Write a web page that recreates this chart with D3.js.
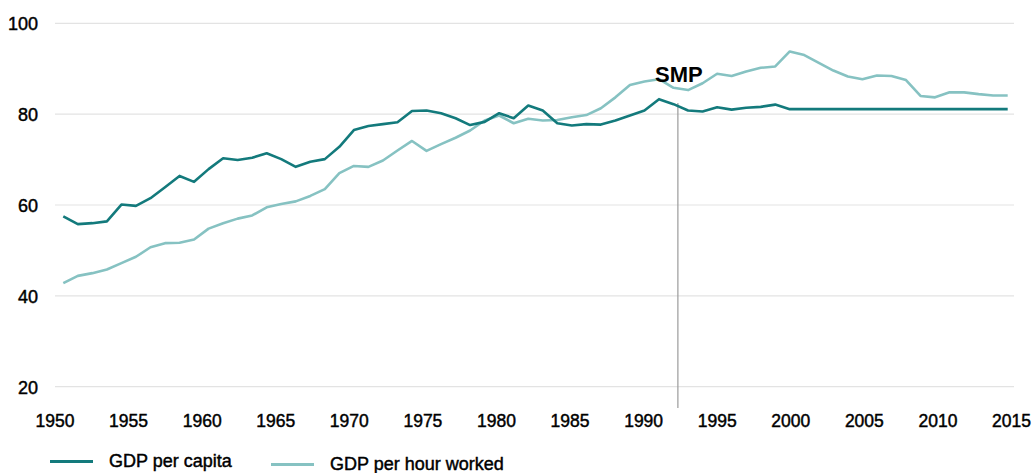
<!DOCTYPE html>
<html>
<head>
<meta charset="utf-8">
<script src="https://cdn.jsdelivr.net/npm/d3@7"></script>
<style>
  html, body { margin: 0; padding: 0; background: #fff; }
  svg { display: block; font-family: "Liberation Sans", Arial, sans-serif; }
  .lbl { fill: #000; stroke: #000; stroke-width: 0.45px; paint-order: fill; }
</style>
</head>
<body>
<svg id="chart" width="1033" height="473"></svg>
<script>
const years = d3.range(1950, 2016);
const gdpPerCapita = [
  57.5, 55.8, 56.0, 56.4, 60.1, 59.8, 61.5, 63.9, 66.4, 65.1,
  67.9, 70.3, 69.9, 70.4, 71.4, 70.1, 68.4, 69.5, 70.1, 72.8,
  76.5, 77.4, 77.8, 78.2, 80.7, 80.8, 80.2, 79.1, 77.6, 78.3,
  80.2, 79.1, 81.9, 80.8, 78.0, 77.5, 77.8, 77.7, 78.6, 79.7,
  80.8, 83.3, 82.2, 80.8, 80.6, 81.5, 81.0, 81.4, 81.6, 82.1,
  81.1, 81.1, 81.1, 81.1, 81.1, 81.1, 81.1, 81.1, 81.1, 81.1,
  81.1, 81.1, 81.1, 81.1, 81.1, 81.1
];
const gdpPerHour = [
  42.8, 44.4, 45.0, 45.8, 47.2, 48.6, 50.7, 51.6, 51.7, 52.4,
  54.8, 56.0, 57.0, 57.7, 59.5, 60.2, 60.8, 62.0, 63.5, 67.0,
  68.6, 68.4, 69.8, 72.0, 74.1, 71.9, 73.4, 74.8, 76.4, 78.6,
  79.7, 78.0, 79.0, 78.6, 78.7, 79.3, 79.8, 81.3, 83.7, 86.4,
  87.2, 87.7, 85.8, 85.3, 86.8, 88.9, 88.4, 89.4, 90.2, 90.5,
  93.8, 93.0, 91.3, 89.6, 88.3, 87.7, 88.5, 88.4, 87.5, 84.0,
  83.7, 84.8, 84.8, 84.4, 84.1, 84.1
];
const yTicks = [20, 40, 60, 80, 100];
const xTicks = d3.range(1950, 2016, 5);
const seriesNames = ["GDP per capita", "GDP per hour worked"];
const seriesColors = ["#137a7c", "#86c2c2"];
const annotation = { year: 1992.3, label: "SMP" };

const svg = d3.select("#chart");

const x = d3.scaleLinear().domain([1950, 2015]).range([63.3, 1007.7]);
const xLabel = d3.scaleLinear().domain([1950, 2015]).range([54.5, 1011]);
const y = d3.scaleLinear().domain([20, 100]).range([386.7, 23.3]);

// gridlines
svg.append("g")
  .selectAll("line")
  .data(yTicks)
  .join("line")
  .attr("x1", 55).attr("x2", 1014)
  .attr("y1", d => y(d)).attr("y2", d => y(d))
  .attr("stroke", "#e3e3e3").attr("stroke-width", 1.2);

// y axis labels
const yAxis = d3.axisLeft(y).tickValues(yTicks).tickSize(0).tickPadding(0);
svg.append("g")
  .attr("transform", "translate(38,0)")
  .call(yAxis)
  .call(g => g.select(".domain").remove())
  .call(g => g.selectAll("text")
    .attr("class", "lbl")
    .attr("font-size", 18)
    .attr("font-family", "Liberation Sans, Arial, sans-serif")
    .attr("dy", "0.36em"));

// x axis labels
const xAxis = d3.axisBottom(xLabel).tickValues(xTicks).tickSize(0).tickPadding(0).tickFormat(d3.format("d"));
svg.append("g")
  .attr("transform", "translate(0,415)")
  .call(xAxis)
  .call(g => g.select(".domain").remove())
  .call(g => g.selectAll("text")
    .attr("class", "lbl")
    .attr("font-size", 17.5)
    .attr("font-family", "Liberation Sans, Arial, sans-serif")
    .attr("dy", "0.71em"));

// annotation line
svg.append("line")
  .attr("x1", x(annotation.year)).attr("x2", x(annotation.year))
  .attr("y1", 103).attr("y2", 408)
  .attr("stroke", "#9a9a9a").attr("stroke-width", 1.2);

// lines
const line = d3.line().x((d, i) => x(years[i])).y(d => y(d));
[gdpPerHour, gdpPerCapita].forEach((vals, k) => {
  const color = k === 0 ? seriesColors[1] : seriesColors[0];
  svg.append("path")
    .datum(vals)
    .attr("d", line)
    .attr("fill", "none")
    .attr("stroke", color)
    .attr("stroke-width", 2.6)
    .attr("stroke-linejoin", "round");
});

// annotation label
svg.append("text")
  .attr("x", x(annotation.year) + 1)
  .attr("y", 82)
  .attr("text-anchor", "middle")
  .attr("font-size", 22)
  .attr("font-weight", "bold")
  .attr("fill", "#000")
  .text(annotation.label);

// legend
const legendItems = [
  { name: seriesNames[0], color: seriesColors[0], x1: 50, x2: 93, ly: 461.5, tx: 109, ty: 467 },
  { name: seriesNames[1], color: seriesColors[1], x1: 271, x2: 314, ly: 464.5, tx: 330, ty: 470 }
];
const lg = svg.append("g");
legendItems.forEach(it => {
  lg.append("line")
    .attr("x1", it.x1).attr("x2", it.x2)
    .attr("y1", it.ly).attr("y2", it.ly)
    .attr("stroke", it.color).attr("stroke-width", 3);
  lg.append("text")
    .attr("class", "lbl")
    .attr("x", it.tx).attr("y", it.ty)
    .attr("font-size", 18)
    .text(it.name);
});
</script>
</body>
</html>
